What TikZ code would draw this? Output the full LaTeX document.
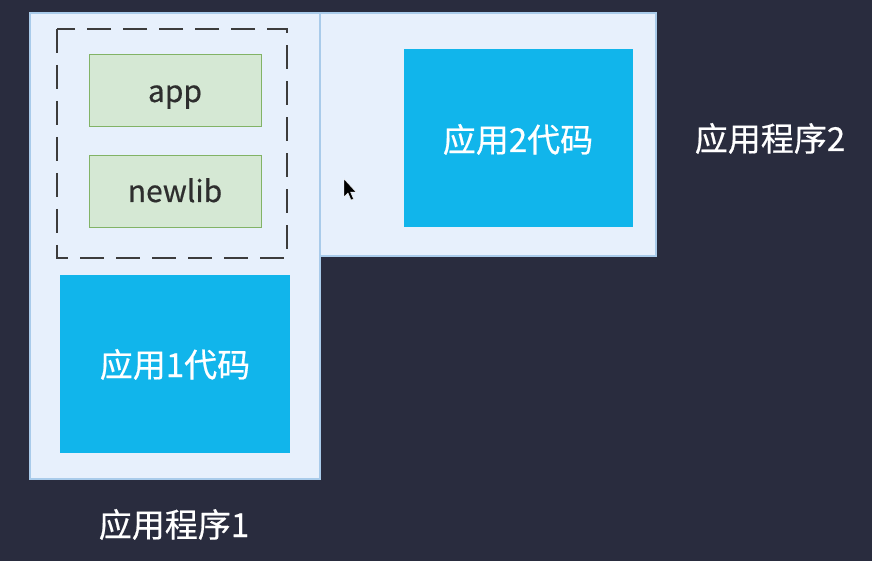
\documentclass[tikz,border=0pt]{standalone}
\usepackage{fontspec}
\setmainfont{Noto Sans CJK SC}[FakeBold=0.5]
\definecolor{bgdark}{HTML}{292C3E}
\definecolor{panelfill}{HTML}{E7F0FC}
\definecolor{paneldraw}{HTML}{A9CBEA}
\definecolor{greenfill}{HTML}{D5E8D4}
\definecolor{greendraw}{HTML}{82B366}
\definecolor{codeblue}{HTML}{11B5EB}
\definecolor{darktext}{HTML}{2E2E2E}
\definecolor{dashgray}{HTML}{3C3C3C}
\begin{document}
\begin{tikzpicture}[x=1pt,y=-1pt,
  panel/.style={draw=paneldraw,line width=1.5pt,fill=panelfill},
  libbox/.style={draw=greendraw,line width=0.8pt,fill=greenfill},
  codebox/.style={fill=codeblue},
  libtext/.style={text=darktext,anchor=base,inner sep=0pt,font=\fontsize{30}{34}\selectfont},
  whitetext/.style={text=white,anchor=base,inner sep=0pt,font=\fontsize{33}{38}\selectfont}]
\useasboundingbox (0,0) rectangle (872,561);
\fill[bgdark] (0,0) rectangle (872,561);
% application panels
\draw[panel] (320,13) rectangle (656,256);
\draw[panel] (30,13) rectangle (320,479);
% dashed group
\draw[dashgray,line width=1.8pt,dash pattern=on 24pt off 12pt] (57,29) rectangle (287,258);
% lib boxes
\node[libbox,minimum width=172pt,minimum height=72pt,inner sep=0pt] (app) at (175,90) {};
\node[libtext] (apptext) at (175,102) {app};
\node[libbox,minimum width=172pt,minimum height=72pt,inner sep=0pt] (newlib) at (175,191) {};
\node[libtext] (newlibtext) at (175,202) {newlib};
% code boxes
\node[codebox,minimum width=230pt,minimum height=178pt,inner sep=0pt] (code1) at (175,364) {};
\node[whitetext] (code1text) at (175,377) {应用1代码};
\node[codebox,minimum width=229pt,minimum height=178pt,inner sep=0pt] (code2) at (518.5,138) {};
\node[whitetext] (code2text) at (518,152) {应用2代码};
% labels
\node[whitetext] (lab1) at (174,537) {应用程序1};
\node[whitetext] (lab2) at (770,151) {应用程序2};
% mouse cursor
\fill[black,draw=white,line width=0.4pt] (344,179) -- (344,197) -- (348,193) -- (351,200) -- (353.5,199) -- (350.5,192) -- (356,192) -- cycle;
\end{tikzpicture}
\end{document}
